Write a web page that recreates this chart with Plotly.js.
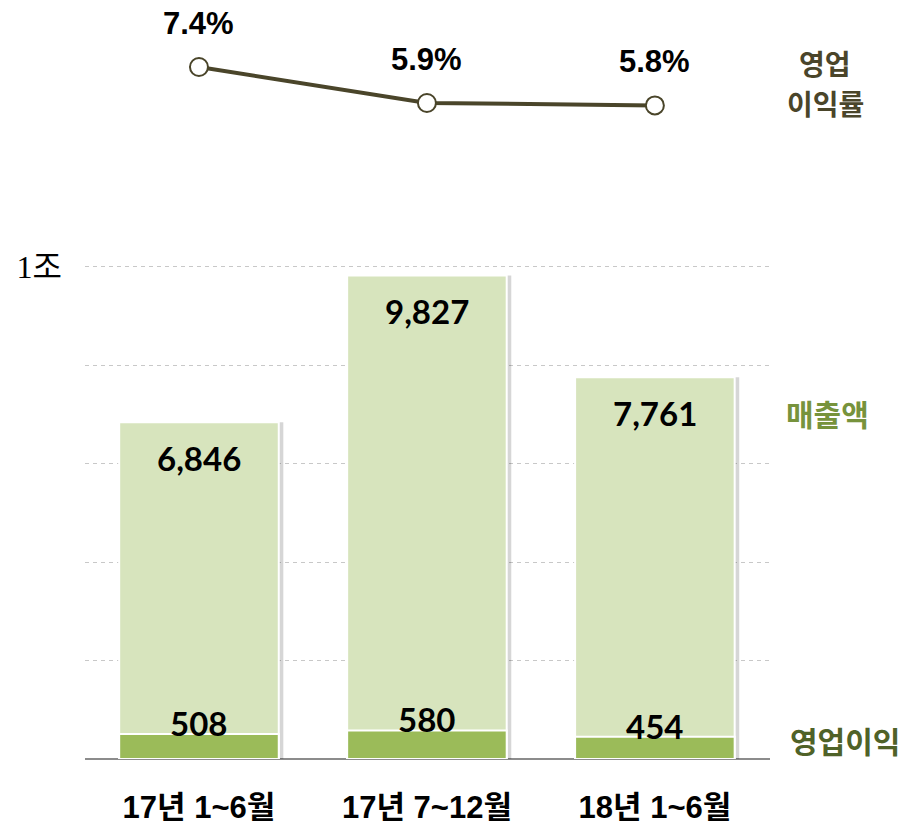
<!DOCTYPE html>
<html><head><meta charset="utf-8">
<script src="https://cdn.plot.ly/plotly-3.0.1.min.js"></script>
<style>body{margin:0;background:#fff}</style></head>
<body><div id="chart" style="width:912px;height:826px"></div>
<script>
const categories = ['17년 1~6월', '17년 7~12월', '18년 1~6월'];
const revenue = [6846, 9827, 7761];
const profit = [508, 580, 454];
const margin = [7.4, 5.9, 5.8];
const revenueLabels = ['6,846', '9,827', '7,761'];
const profitLabels = ['508', '580', '454'];
const marginLabels = ['7.4%', '5.9%', '5.8%'];

const H = 826, W = 912;
const fr = p => (H - p) / H;

const traces = [
  {type:'bar', x:categories, y:revenue, width:0.7, offset:-0.33, xaxis:'x', yaxis:'y',
   marker:{color:'rgba(0,0,0,0.16)', line:{width:0}}, hoverinfo:'none'},
  {type:'bar', x:categories, y:revenue, width:0.7, xaxis:'x', yaxis:'y',
   marker:{color:'#D7E4BD', line:{color:'#ffffff', width:2}}, hoverinfo:'none'},
  {type:'bar', x:categories, y:profit, width:0.7, xaxis:'x', yaxis:'y',
   marker:{color:'#9BBB59', line:{color:'#ffffff', width:2}}, hoverinfo:'none'},
  {type:'scatter', mode:'lines+markers', x:categories, y:margin, xaxis:'x2', yaxis:'y2',
   line:{color:'#4A452A', width:4},
   marker:{size:18, color:'#ffffff', line:{color:'#4A452A', width:2}}, hoverinfo:'none'}
];

const annotations = [];
const numFont = {family:'Lato, "Open Sans", sans-serif', size:33, color:'#000', weight:'bold'};
categories.forEach((c,i)=>{
  annotations.push({x:c, y:revenue[i], xref:'x', yref:'y', text:'<b>'+revenueLabels[i]+'</b>', showarrow:false, yshift:-36, font:numFont});
  annotations.push({x:c, y:profit[i], xref:'x', yref:'y', text:'<b>'+profitLabels[i]+'</b>', showarrow:false, yshift:11, font:numFont});
  annotations.push({x:c, y:margin[i], xref:'x2', yref:'y2', text:'<b>'+marginLabels[i]+'</b>', showarrow:false, yshift:44,
    font:{family:'"Liberation Sans", Arial, sans-serif', size:31, color:'#000', weight:'bold'}});
});
const sideFont = (col, s)=>({family:'"Noto Sans CJK KR", sans-serif', size:s||30, color:col, weight:'bold'});
const side = (x, y, t, col, s) => ({xref:'paper', yref:'paper', x:x/W, y:fr(y), xanchor:'center', yanchor:'middle',
  text:t, showarrow:false, font:sideFont(col, s), align:'center', borderpad:0});
annotations.push(side(825, 63, '<b>영업</b>', '#4A452A', 28));
annotations.push(side(825, 103, '<b>이익률</b>', '#4A452A', 28));
annotations.push(side(827, 413, '<b>매출액</b>', '#77933C'));
annotations.push(side(845, 740, '<b>영업이익</b>', '#4F6228'));

const xdom = [85/W, 770/W];
const layout = {
  width:W, height:H, margin:{l:0,r:0,t:0,b:0},
  paper_bgcolor:'#fff', plot_bgcolor:'rgba(0,0,0,0)',
  showlegend:false, barmode:'overlay',
  xaxis:{domain:xdom, range:[-0.5,2.505], type:'category', showgrid:false, zeroline:false, showline:false,
    ticks:'', ticklabelstandoff:27,
    tickfont:{family:'"Liberation Sans", "Noto Sans CJK KR", sans-serif', size:31, color:'#000', weight:'bold'}},
  yaxis:{domain:[fr(759), fr(252.2)], range:[0,10300], tickvals:[2000,4000,6000,8000,10000],
    ticktext:['','','','','1조'], showgrid:true, gridcolor:'#c8c8c8', griddash:'4px,4px', gridwidth:1,
    zeroline:true, zerolinecolor:'#8c8c8c', zerolinewidth:2, showline:false, ticks:'',
    ticklabelstandoff:22,
    tickfont:{family:'"Liberation Serif", "Noto Sans CJK KR", serif', size:32, color:'#000'}},
  xaxis2:{domain:xdom, range:[-0.5,2.505], type:'category', anchor:'y2', visible:false},
  yaxis2:{domain:[fr(124.6), fr(52.6)], range:[5,8], anchor:'x2', visible:false},
  annotations:annotations
};
Plotly.newPlot('chart', traces, layout, {staticPlot:true});
</script></body></html>
